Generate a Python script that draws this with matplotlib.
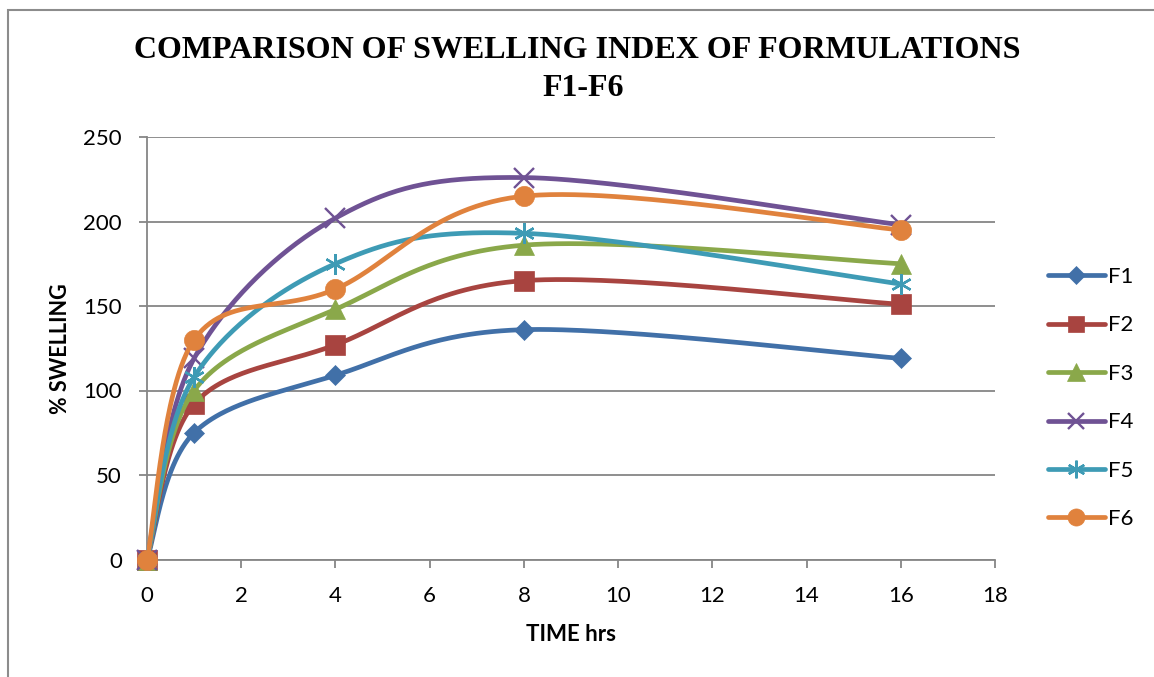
import numpy as np
import matplotlib
matplotlib.use("Agg")
import matplotlib.pyplot as plt
from matplotlib.lines import Line2D
from matplotlib.patches import Rectangle

# Swelling index (%) of formulations F1-F6 over time
time_hrs = [0, 1, 4, 8, 16]
f1 = [0, 75, 109, 136, 119]
f2 = [0, 92, 127, 165, 151]
f3 = [0, 100, 148, 186, 175]
f4 = [0, 119, 202, 226, 198]
f5 = [0, 108, 175, 193, 163]
f6 = [0, 130, 160, 215, 195]

names = ["F1", "F2", "F3", "F4", "F5", "F6"]
series = [f1, f2, f3, f4, f5, f6]
colors = ["#4170A8", "#A84440", "#8AA84A", "#6F5294", "#3E9BB5", "#E0823D"]
markers = ["D", "s", "^", "x", (6, 2, 0), "o"]
msizes = [10.5, 14, 14.5, 14, 15, 14.5]


def smooth(xs, ys, n=60):
    """Catmull-Rom style cubic Bezier smoothing through the points."""
    p = np.column_stack([xs, ys]).astype(float)
    out = [p[0]]
    m = len(p)
    for i in range(m - 1):
        p0 = p[i - 1] if i > 0 else p[i]
        p1, p2 = p[i], p[i + 1]
        p3 = p[i + 2] if i + 2 < m else p[i + 1]
        c1 = p1 + (p2 - p0) / 6.0
        c2 = p2 - (p3 - p1) / 6.0
        t = np.linspace(0, 1, n)[1:, None]
        b = ((1 - t) ** 3) * p1 + 3 * ((1 - t) ** 2) * t * c1 + 3 * (1 - t) * t ** 2 * c2 + t ** 3 * p2
        out.extend(b)
    out = np.array(out)
    return out[:, 0], out[:, 1]


fig = plt.figure(figsize=(11.54, 6.77), dpi=100)
ax = fig.add_axes([147 / 1154, 1 - 559.5 / 677, (995 - 147) / 1154, (559.5 - 137) / 677])

grid_c = "#868686"
handles = []
for k, (name, ys, c, mk, ms) in enumerate(zip(names, series, colors, markers, msizes)):
    sx, sy = smooth(time_hrs, ys)
    line_mk = mk in ("x", (6, 2, 0))
    mew = 1.7 if line_mk else 0.5
    ax.plot(sx, sy, color=c, lw=3.4, solid_capstyle="round", zorder=3 + 2 * k)
    ax.plot(time_hrs, ys, linestyle="none", marker=mk, markersize=ms,
            color=c, markeredgecolor=c, markeredgewidth=mew, zorder=4 + 2 * k,
            clip_on=False)
    handles.append(Line2D([0], [0], color=c, lw=3.4, marker=mk, markersize=ms * 0.85,
                          markeredgecolor=c, markeredgewidth=mew,
                          solid_capstyle="round"))

ax.set_xlim(0, 18)
ax.set_ylim(0, 250)
ax.set_xticks(np.arange(0, 19, 2))
ax.set_yticks(np.arange(0, 251, 50))
ax.yaxis.grid(True, color=grid_c, lw=1.3)
ax.set_axisbelow(True)
for s in ["top", "right"]:
    ax.spines[s].set_visible(False)
for s in ["left", "bottom"]:
    ax.spines[s].set_color(grid_c)
    ax.spines[s].set_linewidth(1.3)
ax.tick_params(axis="both", direction="out", length=6, width=1.3, color=grid_c,
               labelsize=16)
ax.tick_params(axis="x", pad=13)
ax.tick_params(axis="y", pad=12)
for lab in ax.get_xticklabels() + ax.get_yticklabels():
    lab.set_fontfamily("Lato")

ax.set_xlabel("TIME hrs", fontsize=16, fontweight="bold", fontfamily="Lato", labelpad=13)
ax.set_ylabel("% SWELLING", fontsize=15.5, fontweight="bold", fontfamily="Lato", labelpad=9)

fig.text(0.5, 1 - 51 / 677, "COMPARISON OF SWELLING INDEX OF FORMULATIONS",
         ha="center", va="center", fontsize=23, fontweight="bold", fontfamily="Liberation Serif")
fig.text(0.505, 1 - 89 / 677, "F1-F6",
         ha="center", va="center", fontsize=23, fontweight="bold", fontfamily="Liberation Serif")

fig.legend(handles, names, loc="upper left", bbox_to_anchor=(1028 / 1154, 1 - 247 / 677),
           frameon=False, numpoints=1, handlelength=2.55, handletextpad=0.15,
           labelspacing=1.28, prop={"family": "Lato", "size": 16})

# outer chart frame
fig.patches.append(Rectangle((8 / 1154, -0.1), 1.2, 1 - 10 / 677 + 0.1,
                             transform=fig.transFigure, fill=False,
                             edgecolor="#8C8C8C", lw=1.5))

fig.savefig("out.png", dpi=100)
